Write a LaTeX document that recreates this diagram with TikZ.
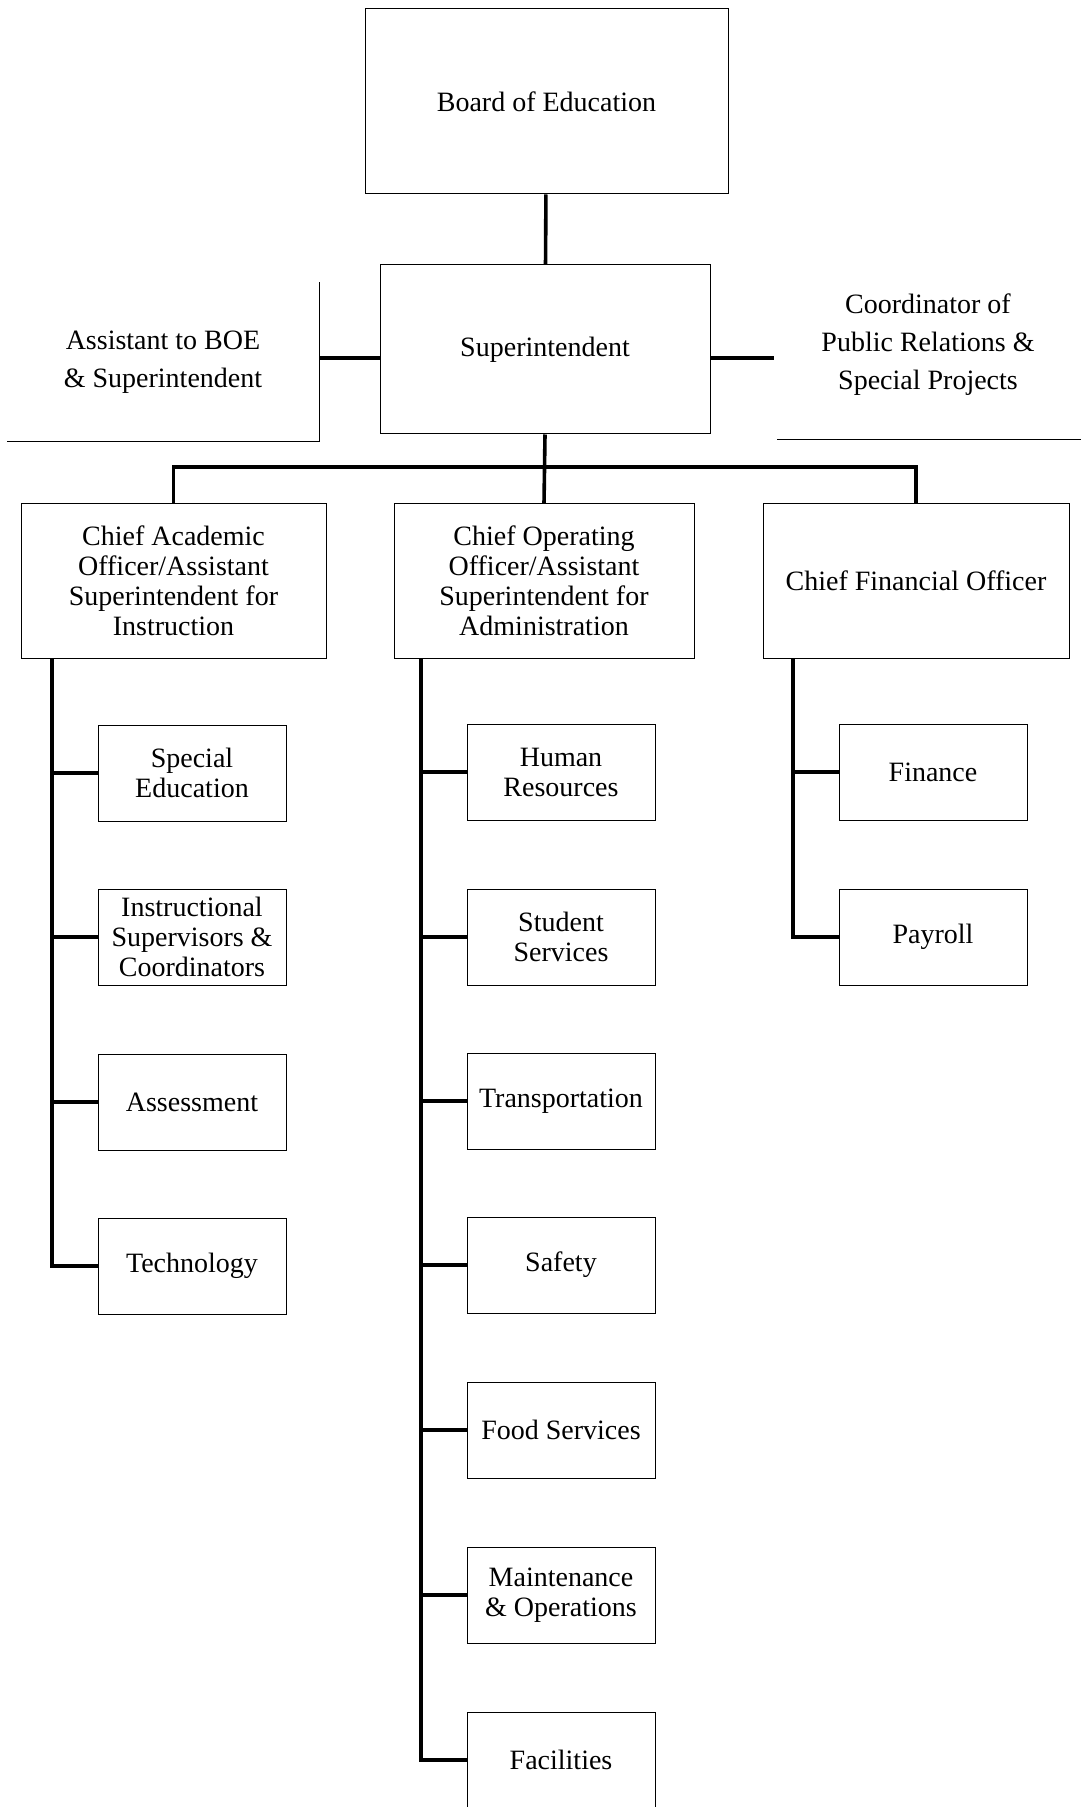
\documentclass[tikz,border=0pt]{standalone}
\usepackage{fontspec}
\setmainfont{Liberation Serif}
\usetikzlibrary{positioning}

\begin{document}
\begin{tikzpicture}[x=0.5pt, y=-0.5pt,
    box/.style={draw, rectangle, line width=0.5pt, inner sep=2pt, align=center, font=\fontsize{14}{15}\selectfont},
    topbox/.style={box, font=\fontsize{14}{19}\selectfont},
    chief/.style={box, minimum height=77pt},
    unit/.style={box, minimum width=94pt, minimum height=48pt},
    conn/.style={line width=1.8pt}]
    \useasboundingbox (0,0) rectangle (1081,1807);

    % Top Level
    \node[topbox, minimum width=181.5pt, minimum height=92.5pt] (board) at (546.5,101.5) {Board of Education};
    \node[topbox, minimum width=165pt, minimum height=84.5pt] (super) at (545,349.5) {Superintendent};

    % Staff
    \node[topbox, draw=none, minimum width=156pt, minimum height=79pt] (asst) at (163,362) {Assistant to BOE\\\& Superintendent};
    \node[topbox, draw=none, align=center] (pr) at (928,345) {Coordinator of\\Public Relations \&\\Special Projects};
    \coordinate (prline) at (777,440);
    \coordinate (prtip) at (774,358);

    % Chiefs
    \node[chief, minimum width=152.5pt] (cao) at (173.5,581) {Chief Academic\\Officer/Assistant\\Superintendent for\\Instruction};
    \node[chief, minimum width=150pt] (coo) at (544,581) {Chief Operating\\Officer/Assistant\\Superintendent for\\Administration};
    \node[chief, minimum width=153pt] (cfo) at (916,581) {Chief Financial Officer};
    \coordinate (bus) at (544,467);

    % Instruction
    \node[unit] (sped) at (192,773) {Special\\Education};
    \node[unit] (supv) at (192,937) {Instructional\\Supervisors \&\\Coordinators};
    \node[unit] (assess) at (192,1102) {Assessment};
    \node[unit] (tech) at (192,1266) {Technology};

    % Administration
    \node[unit] (hr) at (561,772) {Human\\Resources};
    \node[unit] (stud) at (561,937) {Student\\Services};
    \node[unit] (trans) at (561,1101) {Transportation};
    \node[unit] (safety) at (561,1265) {Safety};
    \node[unit] (food) at (561,1430) {Food Services};
    \node[unit] (maint) at (561,1595) {Maintenance\\\& Operations};
    \node[unit] (facil) at (561,1760) {Facilities};

    % Finance
    \node[unit] (fin) at (933,772) {Finance};
    \node[unit] (pay) at (933,937) {Payroll};

    % Spines
    \coordinate (caoSpine) at (52,658);
    \coordinate (cooSpine) at (421,658);
    \coordinate (cfoSpine) at (793,658);

    % Staff borders
    \draw[line width=0.5pt] (asst.north east) -- (asst.south east) -- (asst.south west);
    \draw[line width=0.5pt] (prline) -- (prline -| 1081,0);

    % Connections
    \draw[conn] (board) -- (super);
    \draw[conn] (asst.east |- prtip) -- (super.west |- prtip);
    \draw[conn] (super.east |- prtip) -- (prtip);
    \draw[conn] (super.south) -- (coo.north);
    \draw[conn] (cao.north) |- (bus) -| (cfo.north);

    \draw[conn] (caoSpine) |- (tech.west);
    \draw[conn] (caoSpine |- sped.west) -- (sped.west);
    \draw[conn] (caoSpine |- supv.west) -- (supv.west);
    \draw[conn] (caoSpine |- assess.west) -- (assess.west);

    \draw[conn] (cooSpine) |- (facil.west);
    \draw[conn] (cooSpine |- hr.west) -- (hr.west);
    \draw[conn] (cooSpine |- stud.west) -- (stud.west);
    \draw[conn] (cooSpine |- trans.west) -- (trans.west);
    \draw[conn] (cooSpine |- safety.west) -- (safety.west);
    \draw[conn] (cooSpine |- food.west) -- (food.west);
    \draw[conn] (cooSpine |- maint.west) -- (maint.west);

    \draw[conn] (cfoSpine) |- (pay.west);
    \draw[conn] (cfoSpine |- fin.west) -- (fin.west);
\end{tikzpicture}
\end{document}
